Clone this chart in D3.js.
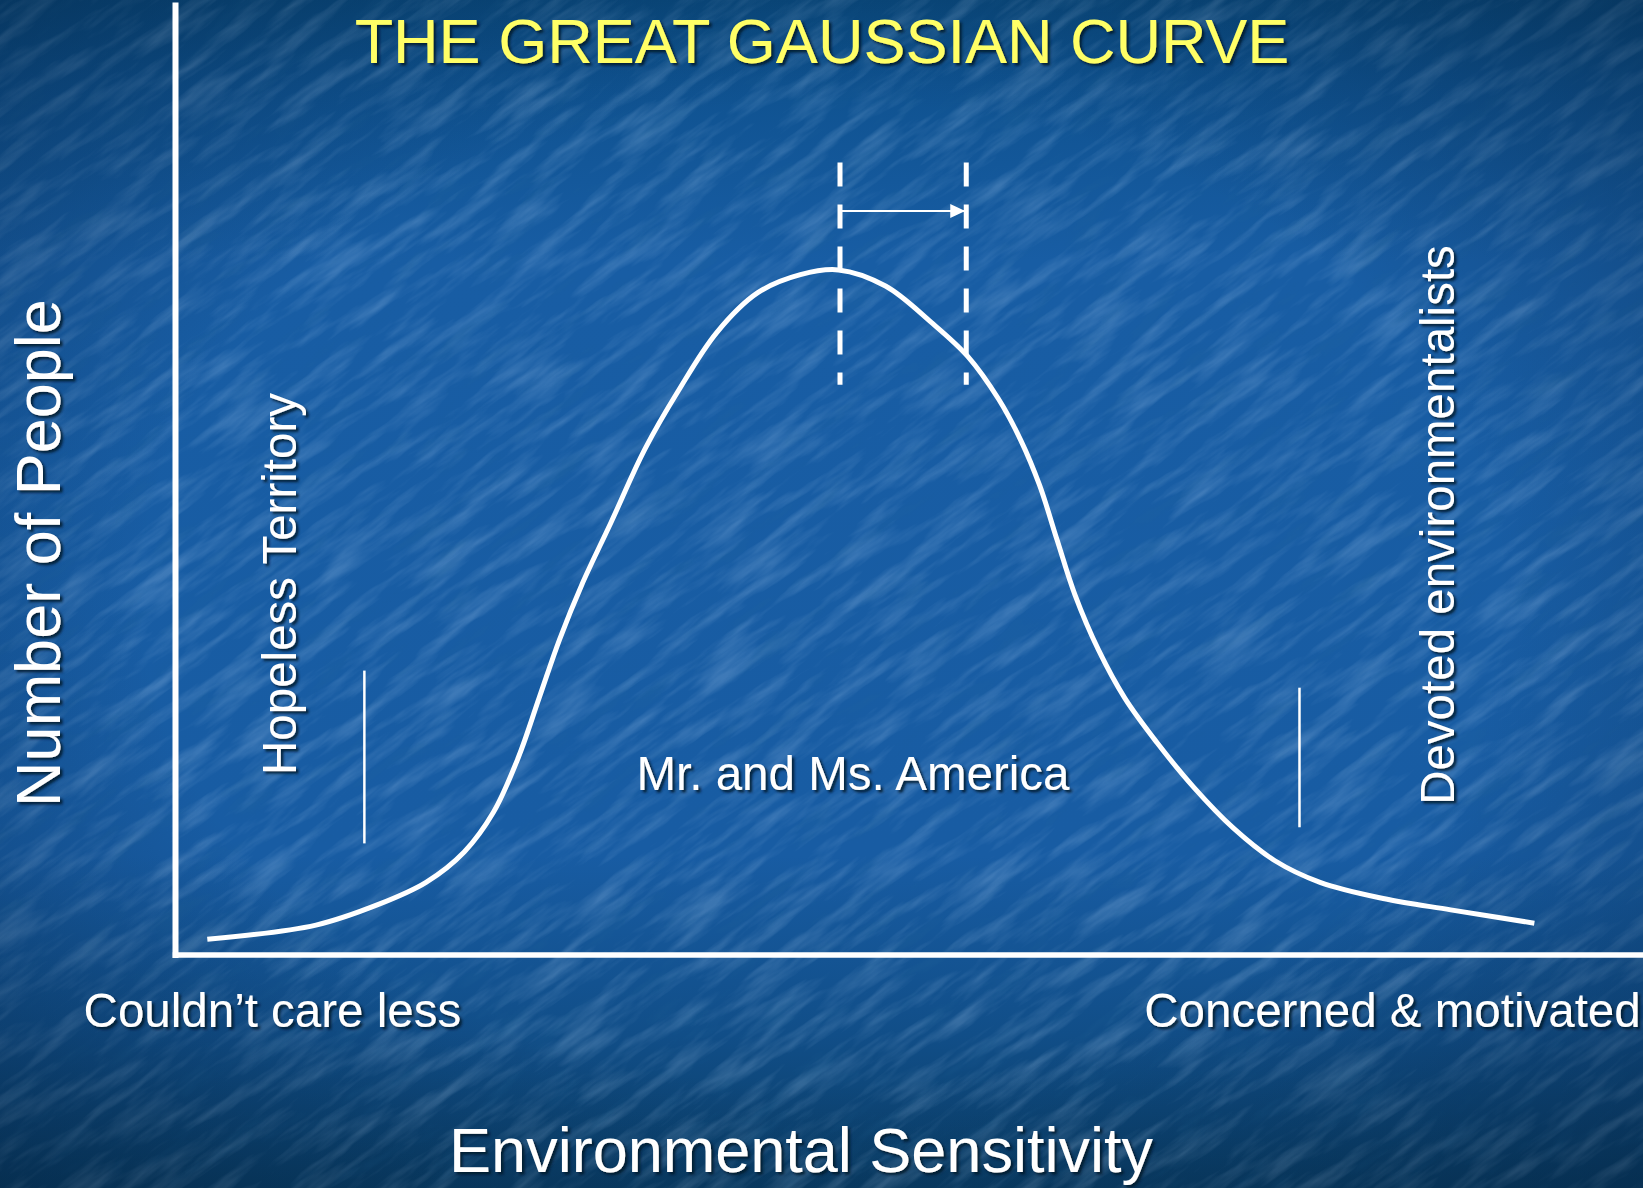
<!DOCTYPE html>
<html>
<head>
<meta charset="utf-8">
<script src="https://cdn.jsdelivr.net/npm/d3@7"></script>
<style>
    html, body { margin: 0; padding: 0; background: #15599c; overflow: hidden; }
    svg { display: block; }
    text { font-family: "Liberation Sans", Arial, sans-serif; }
</style>
</head>
<body>
<div id="chart"></div>
<script>
// Chart data (x = environmental sensitivity, y = number of people, both 0-100)
const sensitivity = [2.2, 9.6, 13.9, 17.1, 19.7, 21.7, 23.4, 24.8, 26.2, 27.7, 29.7, 32.0, 34.3, 36.9, 39.7, 42.6, 45.2,
    48.4, 51.5, 54.0, 56.1, 57.6, 58.9, 60.1, 61.3, 62.9, 64.7, 66.9, 69.4, 72.1, 74.9, 78.0, 82.3, 86.9, 92.6];
const people = [1.6, 3.1, 5.3, 7.6, 10.8, 15.0, 20.8, 27.0, 33.2, 38.9, 45.5, 53.2, 59.4, 65.5, 69.7, 71.6, 72.1,
    70.4, 66.6, 63.0, 58.5, 54.2, 49.4, 43.6, 37.9, 32.1, 27.0, 22.3, 17.6, 13.3, 9.9, 7.6, 5.9, 4.7, 3.3];

// Ends of the x axis
const xTickValues = [6.6, 82.9];
const xTickLabels = ["Couldn\u2019t care less", "Concerned & motivated"];

// Mean before and after the shift (dashed lines + arrow)
const meanValues = [45.3, 53.9];
const meanSpan = [60.0, 83.4];
const arrowLevel = 78.3;

// Thin markers bounding the extreme groups
const markerValues = [12.9, 76.6];
const markerLow = [11.7, 13.4];
const markerHigh = [29.9, 28.1];

const titleText = "THE GREAT GAUSSIAN CURVE";
const xTitle = "Environmental Sensitivity";
const yTitle = "Number of People";
const groupLabels = ["Hopeless Territory", "Mr. and Ms. America", "Devoted environmentalists"];

const width = 1643, height = 1188;

let svg = d3.select("#chart").append("svg")
    .attr("width", width)
    .attr("height", height);

let defs = svg.append("defs");

// Background gradients
let bg = defs.append("linearGradient").attr("id", "bgGrad")
    .attr("x1", 0).attr("y1", 0).attr("x2", 0).attr("y2", 1);
[[0, "#0a4a7f"], [0.07, "#0f5290"], [0.22, "#185da4"], [0.72, "#185ca3"], [0.87, "#114e88"], [1, "#093c64"]]
    .forEach(s => bg.append("stop").attr("offset", s[0]).attr("stop-color", s[1]));

let vignette = defs.append("radialGradient").attr("id", "vignette")
    .attr("cx", 0.5).attr("cy", 0.5).attr("r", 0.75);
vignette.append("stop").attr("offset", 0.55).attr("stop-color", "#021a33").attr("stop-opacity", 0);
vignette.append("stop").attr("offset", 1).attr("stop-color", "#021a33").attr("stop-opacity", 0.45);

// Water-like streak texture
let light = defs.append("filter").attr("id", "streakLight")
    .attr("x", 0).attr("y", 0).attr("width", 1).attr("height", 1);
light.append("feTurbulence").attr("type", "fractalNoise")
    .attr("baseFrequency", "0.012 0.07").attr("numOctaves", 4).attr("seed", 7);
light.append("feColorMatrix").attr("type", "matrix")
    .attr("values", "0 0 0 0 0.55  0 0 0 0 0.75  0 0 0 0 1  2.4 0 0 0 -1.05");

let dark = defs.append("filter").attr("id", "streakDark")
    .attr("x", 0).attr("y", 0).attr("width", 1).attr("height", 1);
dark.append("feTurbulence").attr("type", "fractalNoise")
    .attr("baseFrequency", "0.014 0.06").attr("numOctaves", 4).attr("seed", 21);
dark.append("feColorMatrix").attr("type", "matrix")
    .attr("values", "0 0 0 0 0.02  0 0 0 0 0.14  0 0 0 0 0.32  -2.4 0 0 0 1.05");

let shadow = defs.append("filter").attr("id", "shadow")
    .attr("x", -0.1).attr("y", -0.1).attr("width", 1.2).attr("height", 1.3);
shadow.append("feDropShadow").attr("dx", 2.5).attr("dy", 2.5).attr("stdDeviation", 1)
    .attr("flood-color", "#00152b").attr("flood-opacity", 0.85);

defs.append("marker").attr("id", "arrow")
    .attr("markerUnits", "userSpaceOnUse")
    .attr("viewBox", "0 0 16 16")
    .attr("markerWidth", 16).attr("markerHeight", 16)
    .attr("refX", 15).attr("refY", 8)
    .attr("orient", "auto")
    .append("path").attr("d", "M0,1L15,8L0,15Z").attr("fill", "white");

svg.append("rect").attr("width", width).attr("height", height).attr("fill", "url(#bgGrad)");
svg.append("rect").attr("x", -600).attr("y", -700).attr("width", 2900).attr("height", 2600)
    .attr("transform", "rotate(-36 821 594)")
    .attr("filter", "url(#streakLight)").attr("opacity", 0.22);
svg.append("rect").attr("x", -600).attr("y", -700).attr("width", 2900).attr("height", 2600)
    .attr("transform", "rotate(-36 821 594)")
    .attr("filter", "url(#streakDark)").attr("opacity", 0.25);
svg.append("rect").attr("width", width).attr("height", height).attr("fill", "url(#vignette)");

// Scales
var x = d3.scaleLinear().domain([0, 100]).range([175, 1643]);
var y = d3.scaleLinear().domain([0, 100]).range([954.5, 5]);

// Axes: plain white lines, labels only at the two ends of x
let xAxis = svg.append("g")
    .attr("transform", "translate(0," + y(0) + ")")
    .call(d3.axisBottom(x).tickValues(xTickValues).tickFormat((d, i) => xTickLabels[i])
        .tickSize(0).tickSizeOuter(0).tickPadding(39));
xAxis.select(".domain").attr("stroke", "white").attr("stroke-width", 5.5).attr("stroke-linecap", "square");
xAxis.selectAll(".tick text")
    .attr("fill", "white").attr("font-size", 47.5)
    .attr("font-family", "'Liberation Sans', Arial, sans-serif")
    .attr("filter", "url(#shadow)");

let yAxis = svg.append("g")
    .attr("transform", "translate(" + x(0) + ",0)")
    .call(d3.axisLeft(y).ticks(0).tickSizeOuter(0));
yAxis.select(".domain").attr("stroke", "white").attr("stroke-width", 6).attr("stroke-linecap", "square");

// The bell curve
let points = sensitivity.map((s, i) => [s, people[i]]);
let line = d3.line()
    .x(d => x(d[0]))
    .y(d => y(d[1]))
    .curve(d3.curveCatmullRom.alpha(0.5));

svg.append("path")
    .datum(points)
    .attr("d", line)
    .attr("fill", "none")
    .attr("stroke", "white")
    .attr("stroke-width", 5)
    .attr("stroke-linejoin", "round");

// Dashed mean lines
svg.selectAll(".mean")
    .data(meanValues)
    .enter().append("line")
    .attr("class", "mean")
    .attr("x1", d => x(d)).attr("x2", d => x(d))
    .attr("y1", y(meanSpan[1])).attr("y2", y(meanSpan[0]))
    .attr("stroke", "white")
    .attr("stroke-width", 5)
    .attr("stroke-dasharray", "24 18");

svg.append("line")
    .attr("x1", x(meanValues[0]) + 2).attr("x2", x(meanValues[1]) - 1)
    .attr("y1", y(arrowLevel)).attr("y2", y(arrowLevel))
    .attr("stroke", "white").attr("stroke-width", 2)
    .attr("marker-end", "url(#arrow)");

// Thin group markers
svg.selectAll(".marker")
    .data(markerValues)
    .enter().append("line")
    .attr("class", "marker")
    .attr("x1", d => x(d)).attr("x2", d => x(d))
    .attr("y1", (d, i) => y(markerHigh[i])).attr("y2", (d, i) => y(markerLow[i]))
    .attr("stroke", "white").attr("stroke-width", 2.5);

// Texts
let labels = svg.append("g").attr("filter", "url(#shadow)");

labels.append("text")
    .attr("x", 822).attr("y", 63)
    .attr("text-anchor", "middle")
    .attr("font-size", 63)
    .attr("fill", "#ffff66")
    .text(titleText);

labels.append("text")
    .attr("x", 801).attr("y", 1172)
    .attr("text-anchor", "middle")
    .attr("font-size", 63)
    .attr("fill", "white")
    .text(xTitle);

labels.append("text")
    .attr("transform", "translate(60,553) rotate(-90)")
    .attr("text-anchor", "middle")
    .attr("font-size", 63)
    .attr("fill", "white")
    .text(yTitle);

labels.append("text")
    .attr("transform", "translate(296,584) rotate(-90)")
    .attr("text-anchor", "middle")
    .attr("font-size", 47.5)
    .attr("fill", "white")
    .text(groupLabels[0]);

labels.append("text")
    .attr("x", 853).attr("y", 790)
    .attr("text-anchor", "middle")
    .attr("font-size", 47.5)
    .attr("fill", "white")
    .text(groupLabels[1]);

labels.append("text")
    .attr("transform", "translate(1454,525) rotate(-90)")
    .attr("text-anchor", "middle")
    .attr("font-size", 47.5)
    .attr("fill", "white")
    .text(groupLabels[2]);
</script>
</body>
</html>
